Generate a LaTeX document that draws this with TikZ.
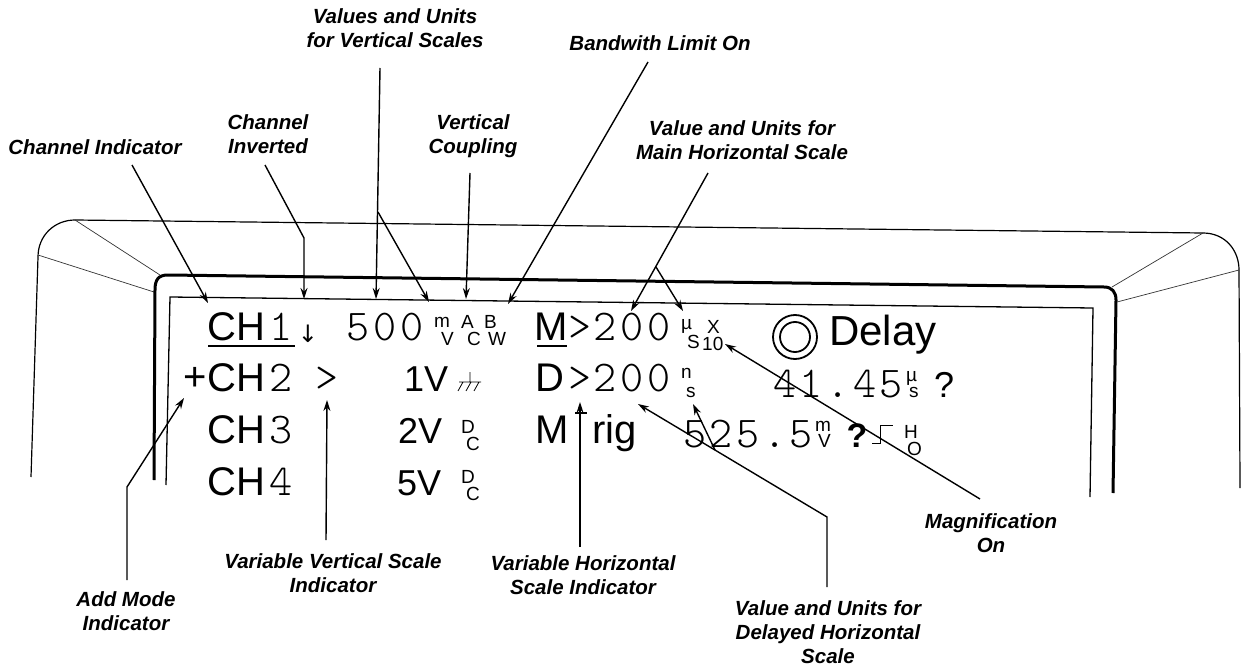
\documentclass[tikz,border=0pt]{standalone}
\usepackage{fontspec}
\setmainfont{Liberation Sans}
\newfontfamily\lblf{Liberation Sans}
\newfontfamily\lcdsans{Liberation Sans}
\newfontfamily\lcdmono{lmmonolt10-regular.otf}[LetterSpace=8]
\newfontfamily\lcdmonoone{lmmonolt10-regular.otf}
\newfontfamily\symf{DejaVu Sans}
\usetikzlibrary{arrows.meta}
% stacked unit: top char shifted by #3 and raised by #4 above bottom char
\newcommand\stk[4]{\rlap{\kern#3\raisebox{#4}{#1}}#2}
\begin{document}
\begin{tikzpicture}[x=1pt,y=-1pt,
  lbl/.style={font={\lblf\bfseries\itshape\fontsize{20.5}{24}\selectfont}, align=center, inner sep=0},
  arr/.style={line width=1.4pt, -{Stealth[length=11pt,width=7pt]}},
  big/.style={font={\lcdsans\fontsize{40}{40}\selectfont}, inner sep=0, anchor=base west},
  mid/.style={font={\lcdsans\fontsize{36}{36}\selectfont}, inner sep=0, anchor=base west},
  mono/.style={font={\lcdmono\fontsize{44}{44}\selectfont}, inner sep=0, anchor=base},
  monoone/.style={font={\lcdmonoone\fontsize{44}{44}\selectfont}, inner sep=0, anchor=base},
  unit/.style={font={\lcdsans\fontsize{19}{19}\selectfont}, inner sep=0, anchor=base west},
  outer/.style={line width=1.2pt},
  bezel/.style={line width=3pt},
  screen/.style={line width=1.3pt},
  diag/.style={line width=0.7pt, black!80}]
\useasboundingbox (0,0) rectangle (1241,671);

% ---------- frame ----------
\draw[outer] (31,477) -- (38,257) .. controls (38,235) and (55,220) .. (75,220)
  -- (1203,233) .. controls (1225,233) and (1239,250) .. (1239,270) -- (1240,488);
\draw[diag] (75,220) -- (160,275);
\draw[diag] (38,255) -- (154,292);
\draw[diag] (1203,233) -- (1112,287);
\draw[diag] (1239,270) -- (1117,302);
\draw[bezel] (154,480) -- (155,290) .. controls (155,280) and (158,275) .. (168,275)
  -- (1104,287) .. controls (1112,287) and (1116,292) .. (1116,300) -- (1113,493);
\draw[screen] (166,485) -- (170,297) -- (1093,308) -- (1090,497);

% ---------- display text ----------
% row 1
\node[big] (ch1) at (207,340) {CH};
\node[monoone] (n1) at (281,340) {1};
\draw[line width=1.5pt] (208,346) -- (295,346);
\node[font={\symf\fontsize{24}{24}\selectfont}, inner sep=0, anchor=base] (inv) at (308,342) {↓};
\node[mono] (v500) at (385,340) {500};
\node[unit] (umv) at (441,345) {\stk{m}{V}{-7pt}{18pt}};
\node[unit] (uac) at (467,345) {\stk{A}{C}{-6pt}{17pt}};
\node[unit] (ubw) at (488,345) {\stk{B}{W}{-4pt}{17pt}};
\node[big, anchor=base] (mm) at (551,340) {M};
\draw[line width=1.5pt] (537,346) -- (567,346);
\node[monoone] (g1) at (580,340) {>};
\node[mono] (h200) at (632,340) {200};
\node[unit] (umus) at (687,348) {\stk{µ}{S}{-6pt}{19pt}};
\node[unit] (ux10) at (702,350) {\stk{X}{10}{5pt}{17pt}};
\draw[line width=1.8pt] (795,337) circle (22);
\draw[line width=1.8pt] (795,337) circle (15);
\node[font={\lcdsans\fontsize{42}{42}\selectfont}, inner sep=0, anchor=base west] (delay) at (829,345) {Delay};

% row 2
\node[font={\lcdsans\fontsize{40}{40}\selectfont}, inner sep=0, anchor=base] (plus) at (195,390) {+};
\node[big] (ch2) at (207,391) {CH};
\node[monoone] (n2) at (281,391) {2};
\node[monoone] (g2) at (327,391) {>};
\node[mid] (v1) at (404,391) {1V};
\draw[line width=0.8pt] (470,372) -- (470,382) (459,382) -- (481,382)
  (463,382) -- (458,391) (471,382) -- (466,391) (479,382) -- (474,391);
\node[big, anchor=base] (dd) at (550,391) {D};
\node[monoone] (g3) at (580,391) {>};
\node[mono] (d200) at (632,391) {200};
\node[unit] (uns) at (686,397) {\stk{n}{s}{-5pt}{19pt}};
\node[mono] (t4145) at (838,397) {41.45};
\node[unit] (umus2) at (909,397) {\stk{µ}{s}{-3pt}{16pt}};
\node[font={\lcdsans\fontsize{36}{36}\selectfont}, inner sep=0, anchor=base] (q1) at (944,397) {?};

% row 3
\node[big] (ch3) at (207,443) {CH};
\node[monoone] (n3) at (281,443) {3};
\node[mid] (v2) at (398,443) {2V};
\node[unit] (udc1) at (466,450) {\stk{D}{C}{-5pt}{17pt}};
\node[big, anchor=base] (mt) at (552,443) {M};
\draw[line width=1.5pt] (575,413) -- (587,413);
\node[big] (rig) at (592,443) {rig};
\node[mono] (t5255) at (748,447) {525.5};
\node[unit] (umv2) at (818,447) {\stk{m}{V}{-3pt}{16pt}};
\node[font={\lcdsans\bfseries\fontsize{34}{34}\selectfont}, inner sep=0, anchor=base] (q2) at (857,447) {?};
\draw[line width=1pt] (872,443) -- (880,443) -- (880,425) -- (893,425);
\node[unit] (uho) at (907,455) {\stk{H}{O}{-3pt}{17pt}};

% row 4
\node[big] (ch4) at (207,495) {CH};
\node[monoone] (n4) at (281,495) {4};
\node[mid] (v5) at (397,495) {5V};
\node[unit] (udc2) at (466,500) {\stk{D}{C}{-5pt}{17pt}};

% ---------- labels ----------
\node[lbl] (lvals) at (395,28.5) {Values and Units\\for Vertical Scales};
\node[lbl] (lbw) at (660,43) {Bandwith Limit On};
\node[lbl] (lci) at (95,147) {Channel Indicator};
\node[lbl] (linv) at (268,134.5) {Channel\\Inverted};
\node[lbl] (lvc) at (473,136.5) {Vertical\\Coupling};
\node[lbl] (lmh) at (742,140.5) {Value and Units for\\Main Horizontal Scale};
\node[lbl] (lam) at (126,611.5) {Add Mode\\Indicator};
\node[lbl] (lvv) at (333,573.5) {Variable Vertical Scale\\Indicator};
\node[lbl] (lvh) at (583,575) {Variable Horizontal\\Scale Indicator};
\node[lbl] (ldh) at (828,632) {Value and Units for\\Delayed Horizontal\\Scale};
\node[lbl] (lmag) at (991,533.5) {Magnification\\On};

% ---------- connector points ----------
\coordinate (ci0) at (132,165);   \coordinate (ci1) at (208,303);
\coordinate (inv0) at (265,165);  \coordinate (inv1) at (304,238); \coordinate (inv2) at (304,299);
\coordinate (va0) at (380,68);    \coordinate (va1) at (376,299);
\coordinate (vaj) at (378,212);   \coordinate (va2) at (429,302);
\coordinate (vc0) at (470,173);   \coordinate (vc1) at (466,299);
\coordinate (bw0) at (648,62);    \coordinate (bw1) at (508,304);
\coordinate (mh0) at (708,173);   \coordinate (mh1) at (631,311);
\coordinate (mhj) at (656,267);   \coordinate (mh2) at (683,311);
\coordinate (am0) at (127,580);   \coordinate (am1) at (127,487); \coordinate (am2) at (184,398);
\coordinate (vv0) at (326,540);   \coordinate (vv1) at (327,400);
\coordinate (vh0) at (580,547);   \coordinate (vh1) at (580,402);
\coordinate (dh0) at (827,587);   \coordinate (dh1) at (827,517); \coordinate (dh2) at (638,404);
\coordinate (dhj) at (715,450);   \coordinate (dh3) at (693,404);
\coordinate (mg0) at (980,499);   \coordinate (mg1) at (725,344);

% ---------- connectors ----------
\draw[arr] (ci0) -- (ci1);
\draw[arr] (inv0) -- (inv1) -- (inv2);
\draw[arr] (va0) -- (va1);
\draw[arr] (vaj) -- (va2);
\draw[arr] (vc0) -- (vc1);
\draw[arr] (bw0) -- (bw1);
\draw[arr] (mh0) -- (mh1);
\draw[arr] (mhj) -- (mh2);
\draw[arr] (am0) -- (am1) -- (am2);
\draw[arr] (vv0) -- (vv1);
\draw[arr] (vh0) -- (vh1);
\draw[arr] (dh0) -- (dh1) -- (dh2);
\draw[arr] (dhj) -- (dh3);
\draw[arr] (mg0) -- (mg1);
\end{tikzpicture}
\end{document}
